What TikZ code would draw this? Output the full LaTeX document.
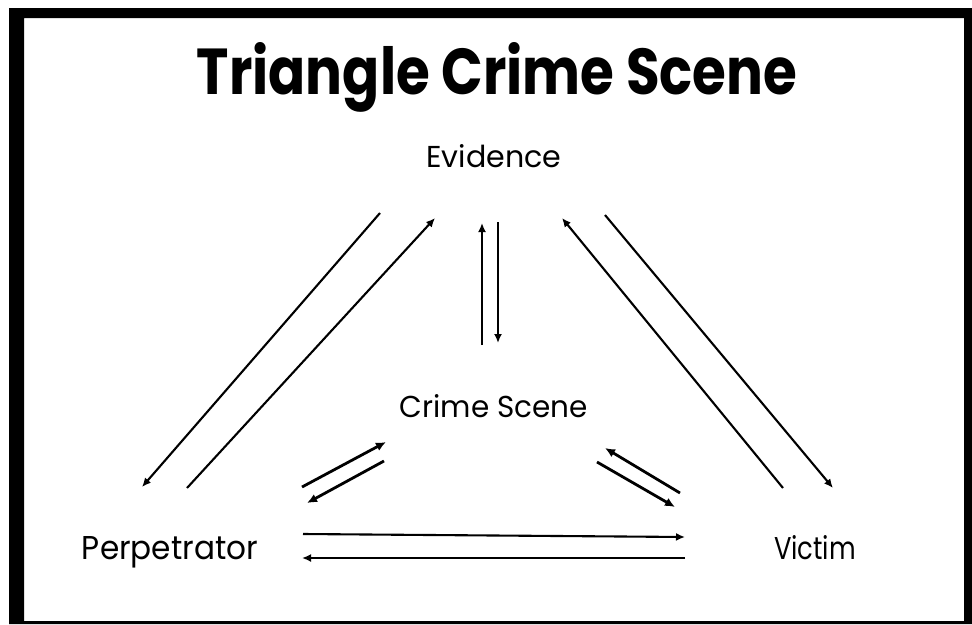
\documentclass[tikz,border=0pt]{standalone}
\usepackage{fontspec}
\setmainfont{Poppins}
\usetikzlibrary{arrows.meta}
\begin{document}
\begin{tikzpicture}[x=1pt,y=-1pt,
  arr/.style={line width=2.1pt,-{Latex[length=9pt,width=8pt]}},
  sarr/.style={line width=2.8pt,-{Latex[length=10pt,width=9pt]}},
  lbl/.style={inner sep=0pt, anchor=base}]
\useasboundingbox (0,0) rectangle (972,624);
\fill[white] (0,0) rectangle (972,624);
\fill[black,even odd rule] (9,8) rectangle (972,624) (24,18) rectangle (964,621);

\node[lbl] (title) at (497,94) {\resizebox{600pt}{52pt}{\bfseries Triangle Crime Scene}};
\node[lbl] (ev) at (494,167) {\resizebox{135pt}{23pt}{Evidence}};
\node[lbl] (cs) at (494,417) {\resizebox{188pt}{23pt}{Crime Scene}};
\node[lbl] (pe) at (170,559) {\resizebox{176pt}{23pt}{Perpetrator}};
\node[lbl] (vi) at (815,559) {\resizebox{82pt}{24pt}{Victim}};

\coordinate (a1s) at (380,213); \coordinate (a1e) at (142,487);
\coordinate (a2s) at (187,488); \coordinate (a2e) at (435,218);
\coordinate (a3s) at (482,345); \coordinate (a3e) at (482,223);
\coordinate (a4s) at (498,222); \coordinate (a4e) at (498,343);
\coordinate (a5s) at (783,488); \coordinate (a5e) at (562,218);
\coordinate (a6s) at (605,215); \coordinate (a6e) at (833,488);
\coordinate (a7s) at (302,487); \coordinate (a7e) at (386,442);
\coordinate (a8s) at (384,461); \coordinate (a8e) at (307,503);
\coordinate (a9s) at (680,493); \coordinate (a9e) at (605,448);
\coordinate (a10s) at (597,462); \coordinate (a10e) at (675,507);
\coordinate (a11s) at (303,534); \coordinate (a11e) at (685,537);
\coordinate (a12s) at (685,558); \coordinate (a12e) at (302,558);

\draw[arr] (a1s) -- (a1e);
\draw[arr] (a2s) -- (a2e);
\draw[arr] (a3s) -- (a3e);
\draw[arr] (a4s) -- (a4e);
\draw[arr] (a5s) -- (a5e);
\draw[arr] (a6s) -- (a6e);
\draw[sarr] (a7s) -- (a7e);
\draw[sarr] (a8s) -- (a8e);
\draw[sarr] (a9s) -- (a9e);
\draw[sarr] (a10s) -- (a10e);
\draw[arr] (a11s) -- (a11e);
\draw[arr] (a12s) -- (a12e);
\end{tikzpicture}
\end{document}
